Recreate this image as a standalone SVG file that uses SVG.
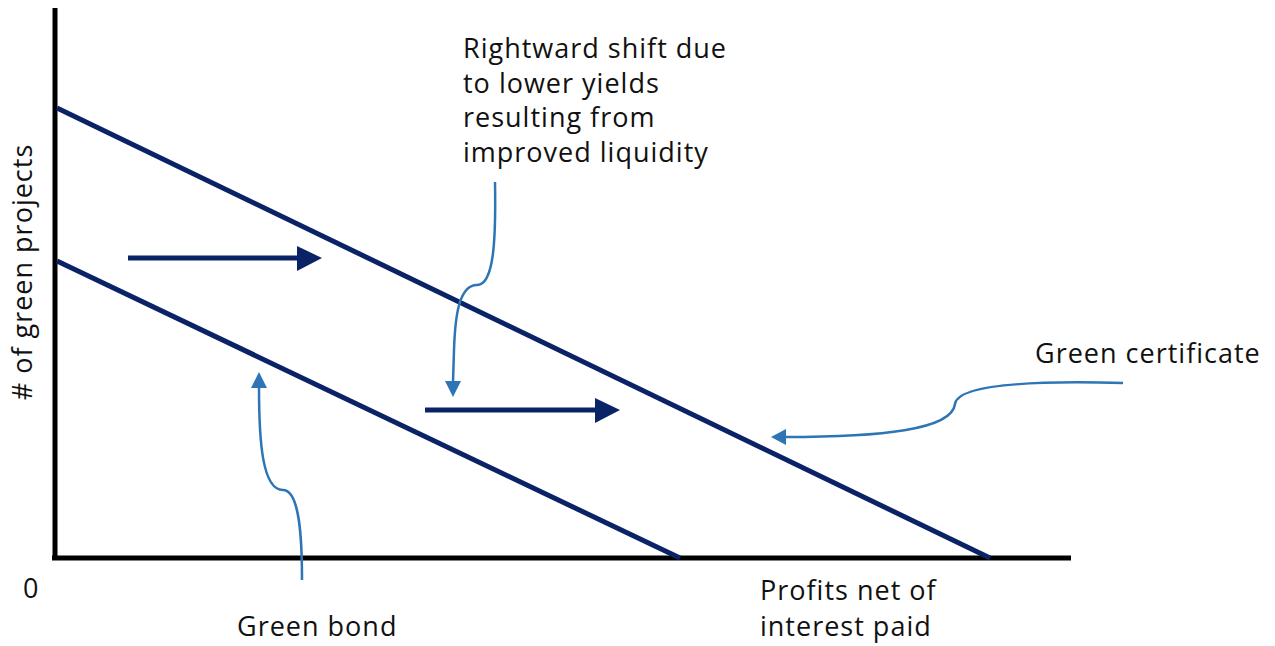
<svg xmlns="http://www.w3.org/2000/svg" width="1275" height="646" viewBox="0 0 1275 646">
<style>
text{font-family:"Open Sans","Liberation Sans",sans-serif;font-size:27px;fill:#111;letter-spacing:1px}
.axis{stroke:#000;stroke-width:5;fill:none}
.curve{stroke:#0a2266;stroke-width:5;fill:none}
.shift{stroke:#0a2266;stroke-width:5;fill:none}
.call{stroke:#2e75b6;stroke-width:2.5;fill:none}
</style>
<rect width="1275" height="646" fill="#fff"/>
<g id="axes">
<line class="axis" x1="55" y1="8" x2="55" y2="560"/>
<line class="axis" x1="52" y1="558" x2="1071" y2="558"/>
<text x="23" y="598">0</text>
<text transform="translate(32,272) rotate(-90)" text-anchor="middle"># of green projects</text>
<text x="760" y="600">Profits net of</text>
<text x="760" y="636">interest paid</text>
</g>
<g id="green-certificate-curve">
<line class="curve" x1="57" y1="108" x2="990" y2="558"/>
</g>
<g id="green-bond-curve">
<line class="curve" x1="57" y1="261" x2="680" y2="558"/>
</g>
<g id="shift-arrows">
<line class="shift" x1="128" y1="258" x2="298" y2="258"/>
<polygon points="297,246 322,258 297,271" fill="#0a2266"/>
<line class="shift" x1="425" y1="410" x2="596" y2="410"/>
<polygon points="595,398 620,410 595,423" fill="#0a2266"/>
</g>
<g id="connectors">
<path class="call" d="M495,182 C496,240 494,285 477,285 C458,285 455,320 454,350 L453,382"/>
<polygon points="445,381 461,381 453,397" fill="#2e75b6"/>
<path class="call" d="M1123,383 C1050,381 958,382 955,404 C952,430 880,437 785,437"/>
<polygon points="786,429 786,445 771,437" fill="#2e75b6"/>
<path class="call" d="M302,580 C302,540 300,490 283,490 C262,490 259,440 259,387"/>
<polygon points="251,388 267,388 259,372" fill="#2e75b6"/>
</g>
<g id="label-shift">
<text x="463" y="58">Rightward shift due</text>
<text x="463" y="93">to lower yields</text>
<text x="463" y="127">resulting from</text>
<text x="463" y="162">improved liquidity</text>
</g>
<g id="label-green-certificate">
<text x="1035" y="363">Green certificate</text>
</g>
<g id="label-green-bond">
<text x="237" y="636">Green bond</text>
</g>
</svg>
